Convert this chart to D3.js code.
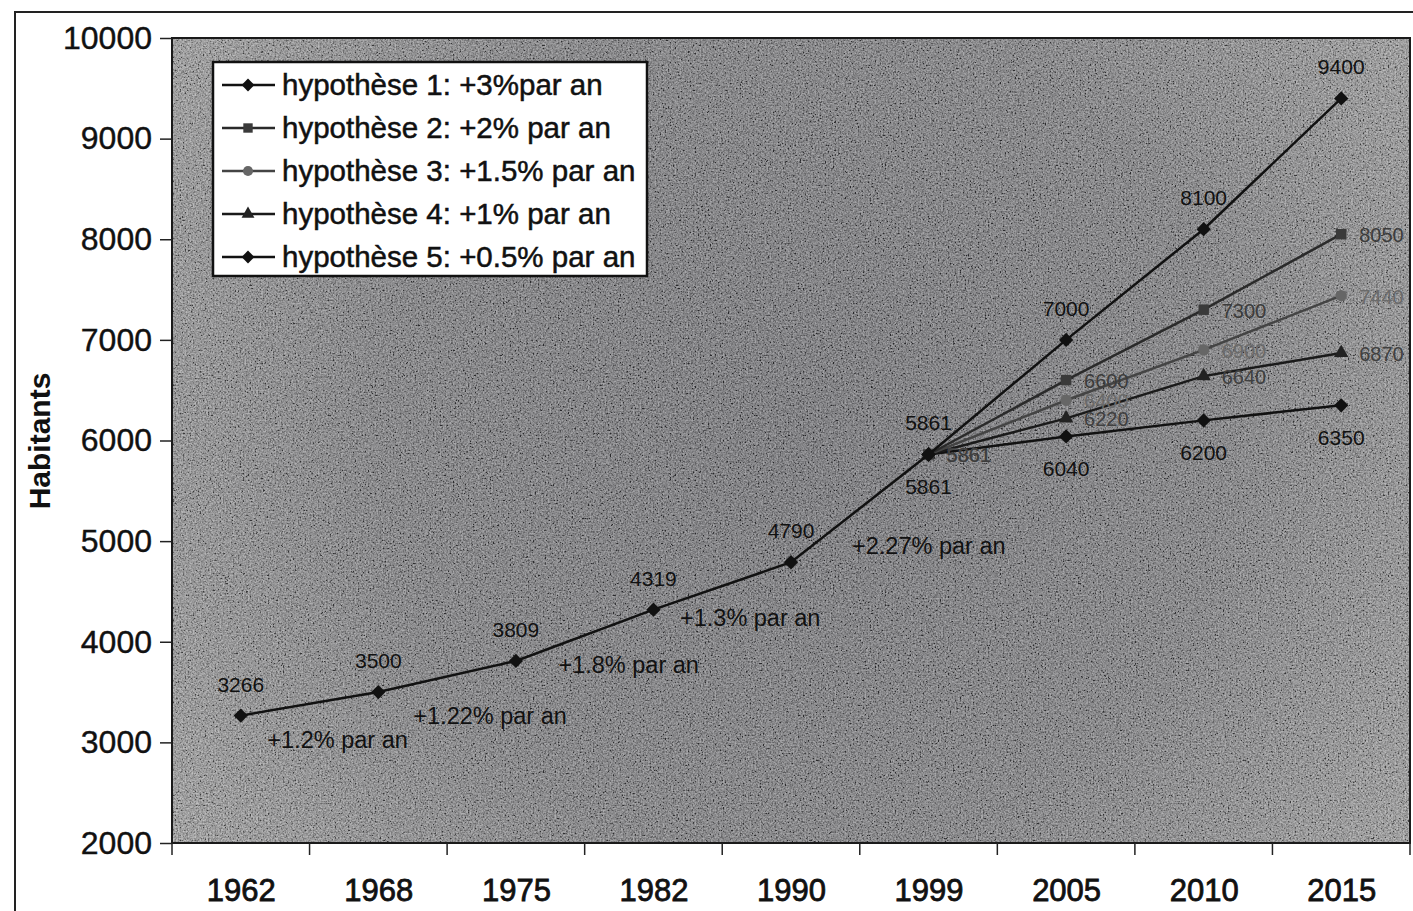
<!DOCTYPE html>
<html>
<head>
<meta charset="utf-8">
<script src="https://cdn.jsdelivr.net/npm/d3@7"></script>
<style>
  html, body { margin: 0; padding: 0; background: #fff; }
  svg { display: block; font-family: "Liberation Sans", Arial, sans-serif; }
</style>
</head>
<body>
<div id="chart"></div>
<script>
// data
const years = ["1962", "1968", "1975", "1982", "1990", "1999", "2005", "2010", "2015"];
const histYears = ["1962", "1968", "1975", "1982", "1990", "1999"];
const histValues = [3266, 3500, 3809, 4319, 4790, 5861];
const hypYears = ["1999", "2005", "2010", "2015"];
const hyp1 = [5861, 7000, 8100, 9400];
const hyp2 = [5861, 6600, 7300, 8050];
const hyp3 = [5861, 6400, 6900, 7440];
const hyp4 = [5861, 6220, 6640, 6870];
const hyp5 = [5861, 6040, 6200, 6350];
const hypNames = ["hypothèse 1: +3%par an", "hypothèse 2: +2% par an", "hypothèse 3: +1.5% par an",
  "hypothèse 4: +1% par an", "hypothèse 5: +0.5% par an"];
const rateLabels = ["+1.2% par an", "+1.22% par an", "+1.8% par an", "+1.3% par an", "+2.27% par an"];
const yTicks = [2000, 3000, 4000, 5000, 6000, 7000, 8000, 9000, 10000];

const diamond = d3.symbolDiamond2 || d3.symbolDiamond;

// styles per hypothesis (kept apart from the values)
const hypStyle = [
  { line: "#111", marker: diamond, size: 130, mfill: "#111", label: "#111", pos: "above" },
  { line: "#2a2a2a", marker: d3.symbolSquare, size: 110, mfill: "#3a3a3a", label: "#3c3c3c", pos: "right" },
  { line: "#444", marker: d3.symbolCircle, size: 100, mfill: "#666", label: "#6a6a6a", pos: "right" },
  { line: "#1a1a1a", marker: d3.symbolTriangle, size: 90, mfill: "#222", label: "#404040", pos: "right" },
  { line: "#111", marker: diamond, size: 130, mfill: "#111", label: "#111", pos: "below" }
];
// nudges of the rate annotations from the middle of each segment
const rateNudge = [[28, 44], [43, 47], [44, 38], [28, 40], [69, 46]];

const width = 1413, height = 911;
const mLeft = 172, mRight = 1410, mTop = 38, mBottom = 843;

const svg = d3.select("#chart").append("svg").attr("width", width).attr("height", height);

const defs = svg.append("defs");
const grad = defs.append("radialGradient").attr("id", "bg")
  .attr("gradientUnits", "userSpaceOnUse")
  .attr("cx", 800).attr("cy", 430).attr("r", 780);
grad.append("stop").attr("offset", "0%").attr("stop-color", "#48484e");
grad.append("stop").attr("offset", "55%").attr("stop-color", "#58585c");
grad.append("stop").attr("offset", "100%").attr("stop-color", "#8a8a8a");

const noise = defs.append("filter").attr("id", "noise")
  .attr("x", 0).attr("y", 0).attr("width", "100%").attr("height", "100%");
noise.append("feTurbulence").attr("type", "fractalNoise").attr("baseFrequency", 0.6)
  .attr("numOctaves", 2).attr("seed", 7);
noise.append("feColorMatrix").attr("type", "matrix")
  .attr("values", "1.3 1.3 0 0 -0.8  1.3 1.3 0 0 -0.8  1.3 1.3 0 0 -0.8  0 0 0 0 0.5");

// outer frame
svg.append("path").attr("d", `M15,${height} L15,12 L${width},12`)
  .attr("fill", "none").attr("stroke", "#222").attr("stroke-width", 2);

// scales
const x = d3.scalePoint().domain(years).range([mLeft, mRight]).padding(0.5);
const xb = d3.scaleBand().domain(years).range([mLeft, mRight]);
const y = d3.scaleLinear().domain([2000, 10000]).range([mBottom, mTop]);

// plot area
svg.append("rect").attr("x", mLeft).attr("y", mTop).attr("width", mRight - mLeft).attr("height", mBottom - mTop)
  .attr("fill", "url(#bg)");
svg.append("rect").attr("x", mLeft).attr("y", mTop).attr("width", mRight - mLeft).attr("height", mBottom - mTop)
  .attr("fill", "#808080").attr("filter", "url(#noise)");
svg.append("rect").attr("x", mLeft).attr("y", mTop).attr("width", mRight - mLeft).attr("height", mBottom - mTop)
  .attr("fill", "none").attr("stroke", "#1a1a1a").attr("stroke-width", 2);

// y axis
const yAxis = svg.append("g").attr("transform", `translate(${mLeft},0)`)
  .call(d3.axisLeft(y).tickValues(yTicks).tickFormat(d3.format("d")).tickSize(12).tickPadding(8));
yAxis.select(".domain").remove();
yAxis.selectAll("line").attr("stroke", "#222").attr("stroke-width", 1.5);
yAxis.selectAll("text").attr("font-size", 32).attr("fill", "#111")
  .attr("stroke", "#111").attr("stroke-width", 0.4)
  .attr("font-family", "Liberation Sans, Arial, sans-serif");

// x axis: labels at centres, ticks at band edges
const xAxis = svg.append("g").attr("transform", `translate(0,${mBottom})`)
  .call(d3.axisBottom(x).tickSize(0).tickPadding(36));
xAxis.select(".domain").remove();
xAxis.selectAll("text").attr("font-size", 31).attr("fill", "#111")
  .attr("stroke", "#111").attr("stroke-width", 0.8)
  .attr("font-family", "Liberation Sans, Arial, sans-serif");
svg.append("g").selectAll("line")
  .data(years.concat(["end"]))
  .join("line")
  .attr("x1", (d, i) => i < years.length ? xb(d) : xb(years[years.length - 1]) + xb.bandwidth())
  .attr("x2", (d, i) => i < years.length ? xb(d) : xb(years[years.length - 1]) + xb.bandwidth())
  .attr("y1", mBottom).attr("y2", mBottom + 12)
  .attr("stroke", "#222").attr("stroke-width", 1.5);

// y title
svg.append("text")
  .attr("transform", `translate(50,441) rotate(-90)`)
  .attr("text-anchor", "middle")
  .attr("font-size", 30).attr("font-weight", "bold").attr("fill", "#111")
  .text("Habitants");

const line = d3.line().x(d => x(d[0])).y(d => y(d[1]));

// hypotheses (drawn from weakest to strongest so dark lines stay on top)
const hyps = [hyp1, hyp2, hyp3, hyp4, hyp5];
hyps.map((vals, k) => ({ vals, k })).reverse().forEach(({ vals, k }) => {
  const st = hypStyle[k];
  const pts = hypYears.map((yr, i) => [yr, vals[i]]);
  svg.append("path").datum(pts).attr("d", line)
    .attr("fill", "none").attr("stroke", st.line).attr("stroke-width", 2.5);
  svg.append("g").selectAll("path").data(pts).join("path")
    .attr("transform", d => `translate(${x(d[0])},${y(d[1])})`)
    .attr("d", d3.symbol().type(st.marker).size(st.size))
    .attr("fill", st.mfill);
  svg.append("g").selectAll("text").data(pts).join("text")
    .attr("x", d => x(d[0]) + (st.pos === "right" ? 18 : 0))
    .attr("y", d => y(d[1]) + (st.pos === "above" ? -24 : st.pos === "below" ? 40 : 8))
    .attr("text-anchor", st.pos === "right" ? "start" : "middle")
    .attr("font-size", st.pos === "right" ? 20 : 21).attr("fill", st.label)
    .text(d => d[1]);
});

// historical line
const histPts = histYears.map((yr, i) => [yr, histValues[i]]);
svg.append("path").datum(histPts).attr("d", line)
  .attr("fill", "none").attr("stroke", "#111").attr("stroke-width", 2.5);
svg.append("g").selectAll("path").data(histPts).join("path")
  .attr("transform", d => `translate(${x(d[0])},${y(d[1])})`)
  .attr("d", d3.symbol().type(diamond).size(130))
  .attr("fill", "#111");
svg.append("g").selectAll("text").data(histPts.slice(0, -1)).join("text")
  .attr("x", d => x(d[0]))
  .attr("y", d => y(d[1]) - 24)
  .attr("text-anchor", "middle")
  .attr("font-size", 21).attr("fill", "#111")
  .text(d => d[1]);

// growth rate annotations
svg.append("g").selectAll("text").data(rateLabels).join("text")
  .attr("x", (d, i) => (x(histYears[i]) + x(histYears[i + 1])) / 2 + rateNudge[i][0])
  .attr("y", (d, i) => (y(histValues[i]) + y(histValues[i + 1])) / 2 + rateNudge[i][1])
  .attr("text-anchor", "middle")
  .attr("font-size", 23.5).attr("fill", "#111")
  .text(d => d);

// legend
const lg = svg.append("g").attr("transform", "translate(213,62)");
lg.append("rect").attr("width", 434).attr("height", 214)
  .attr("fill", "#fff").attr("stroke", "#111").attr("stroke-width", 2.5);
hypNames.forEach((name, i) => {
  const st = hypStyle[i];
  const row = lg.append("g").attr("transform", `translate(0,${23 + i * 43})`);
  row.append("line").attr("x1", 9).attr("x2", 62).attr("stroke", st.line).attr("stroke-width", 2.5);
  row.append("path").attr("transform", "translate(35,0)")
    .attr("d", d3.symbol().type(st.marker).size(st.size * 0.8))
    .attr("fill", st.mfill);
  row.append("text").attr("x", 69).attr("dy", "0.35em")
    .attr("font-size", 29.5).attr("fill", "#111")
    .attr("stroke", "#111").attr("stroke-width", 0.5)
    .text(name);
});
</script>
</body>
</html>
